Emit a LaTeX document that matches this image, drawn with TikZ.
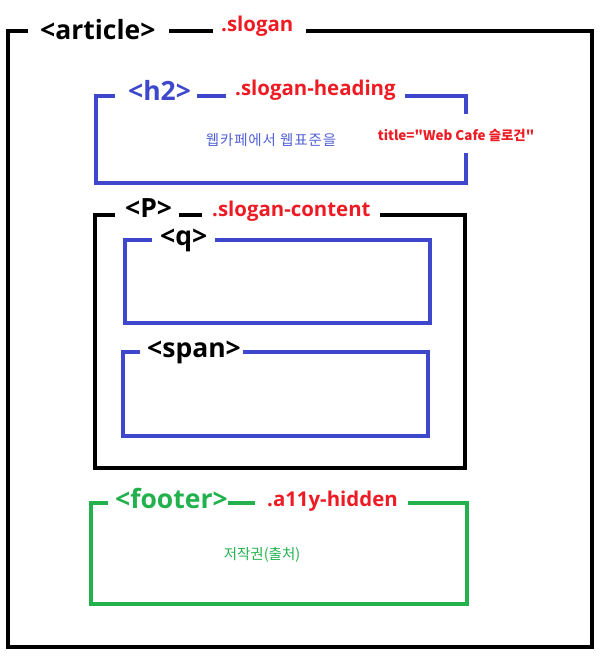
\documentclass[tikz,border=0pt]{standalone}
\usepackage{fontspec}
\setmainfont{Open Sans}
\newfontfamily\kr{Noto Sans CJK KR}
\usetikzlibrary{positioning}
\definecolor{tagblue}{RGB}{63,72,204}
\definecolor{taggreen}{RGB}{34,177,76}
\definecolor{clsred}{RGB}{237,28,36}
\definecolor{txtblue}{RGB}{84,98,214}

\begin{document}
\begin{tikzpicture}[x=1pt,y=-1pt,
    box/.style={line width=3.5pt},
    tag/.style={font=\bfseries\fontsize{26.5}{26.5}\selectfont, inner sep=0pt, anchor=base west},
    cls/.style={tag, text=clsred, font=\bfseries\fontsize{20.4}{20.4}\selectfont},
    note/.style={font=\kr\fontsize{14.5}{14.5}\selectfont, inner sep=0pt}]
\useasboundingbox (0,0) rectangle (601,664);

% article .slogan
\draw[box] (28,31) -| (8,647) -| (592,31) -- (306,31) (169,31) -- (213,31);
\node[tag] (article) at (40,39) {<article>};
\node[cls] (slogan) at (221,31) {.slogan};

% h2 .slogan-heading
\draw[box, tagblue] (115,96) -| (96,183) -| (466,153) (466,114) |- (405,96) (197,96) -- (226,96);
\node[tag, text=tagblue] (h2) at (128,100) {<h2>};
\node[cls] (heading) at (235,95) {.slogan-heading};
\node[note, text=txtblue, font=\kr\fontsize{14.5}{14.5}\selectfont\addfontfeatures{LetterSpace=6}] (headtext) at (271,140) {웹카페에서 웹표준을};
\node[note, text=clsred, font=\kr\bfseries\fontsize{13.4}{13.4}\selectfont] (title) at (456,135) {title="Web Cafe 슬로건"};

% P .slogan-content
\draw[box] (115,215) -| (95,468) -| (465,215) -- (380,215) (179,215) -- (202,215);
\node[tag] (p) at (125,217) {<P>};
\node[cls] (content) at (212,216) {.slogan-content};

% q
\draw[box, tagblue] (152,240) -| (125,323) -| (430,240) -- (215,240);
\node[tag] (q) at (160,245) {<q>};

% span
\draw[box, tagblue] (140,352) -| (123,436) -| (428,352) -- (243,352);
\node[tag] (span) at (147,357) {<span>};

% footer .a11y-hidden
\draw[box, taggreen] (108,503) -| (91,604) -| (467,503) -- (408,503) (228,503) -- (255,503);
\node[tag, text=taggreen] (footer) at (115,508) {<footer>};
\node[cls] (hidden) at (267,506) {.a11y-hidden};
\node[note, text=taggreen] (copy) at (262,555) {저작권(출처)};
\end{tikzpicture}
\end{document}
